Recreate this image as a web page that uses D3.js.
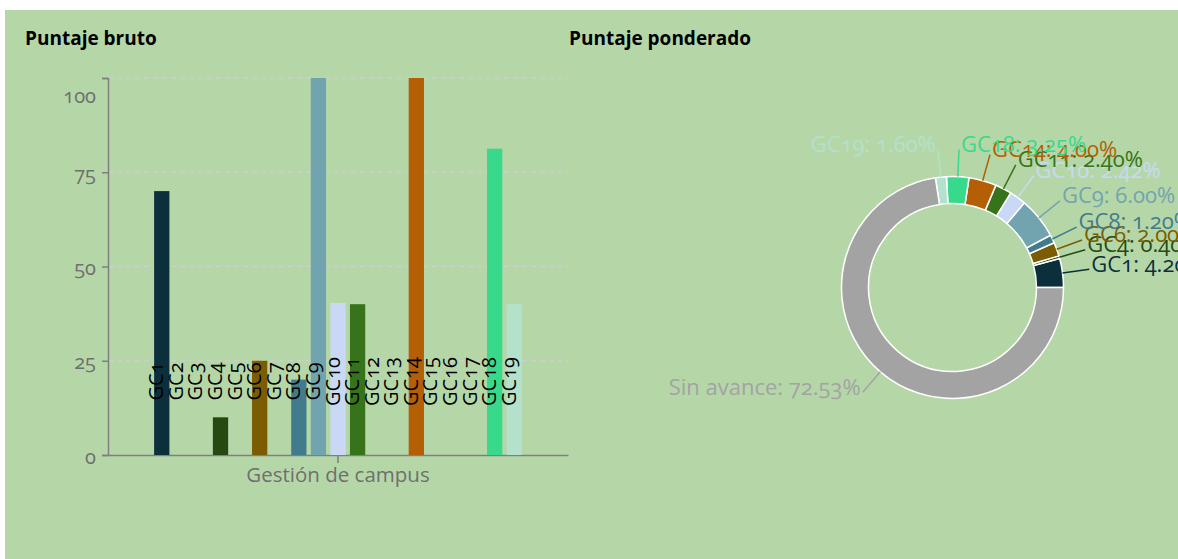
<!DOCTYPE html>
<html>
<head>
<meta charset="utf-8">
<script src="https://cdn.jsdelivr.net/npm/d3@7"></script>
<style>
  body { margin: 0; background: #fff; }
  svg text { font-family: "Open Sans", "Noto Sans", sans-serif; font-feature-settings: "onum"; }
</style>
</head>
<body>
<svg id="chart"></svg>
<script>
/* Chart values */
const group = "Gestión de campus";
const categories = ["GC1", "GC2", "GC3", "GC4", "GC5", "GC6", "GC7", "GC8", "GC9", "GC10",
  "GC11", "GC12", "GC13", "GC14", "GC15", "GC16", "GC17", "GC18", "GC19"];
const rawScores = [70, 0, 0, 10, 0, 25, 0, 20, 100, 40.33, 40, 0, 0, 100, 0, 0, 0, 81.25, 40];
const weightedPct = [4.20, 0, 0, 0.40, 0, 2.00, 0, 1.20, 6.00, 2.42, 2.40, 0, 0, 4.00, 0, 0, 0, 3.25, 1.60];
const restLabel = "Sin avance";
const restPct = 72.53;
const colors = ["#0b2f3b", "#888", "#888", "#254a11", "#888", "#7c5c00", "#888", "#417b8c", "#72a4b0", "#c9d9f5",
  "#36731b", "#888", "#888", "#b45e05", "#888", "#888", "#888", "#39d98b", "#b3e1cc"];
const restColor = "#a3a3a3";
const yTicks = [0, 25, 50, 75, 100];

const width = 1178;
const height = 559;

const svg = d3.select('#chart')
  .attr('width', width)
  .attr('height', height);

svg.append('rect')
  .attr('x', 5)
  .attr('y', 10)
  .attr('width', width - 5)
  .attr('height', height - 10)
  .attr('fill', '#b5d7a8');

/* Titles */
svg.append('text')
  .attr('x', 25).attr('y', 45)
  .attr('font-size', 19).attr('font-weight', 700)
  .text('Puntaje bruto');

svg.append('text')
  .attr('x', 569).attr('y', 45)
  .attr('font-size', 19).attr('font-weight', 700)
  .text('Puntaje ponderado');

/* Bar chart */
const bar = { left: 108, top: 78, w: 460, h: 377 };
const g = svg.append('g').attr('transform', `translate(${bar.left},${bar.top})`);

const y = d3.scaleLinear().domain([0, 100]).range([bar.h, 0]);
const x0 = d3.scaleBand().domain([group]).range([0, bar.w]).padding(0.1);
const x1 = d3.scaleBand().domain(categories).range([0, x0.bandwidth()]).padding(0.22);

// dashed grid
g.append('g')
  .selectAll('line')
  .data(yTicks.filter(d => d > 0))
  .enter().append('line')
  .attr('x1', 0).attr('x2', bar.w)
  .attr('y1', d => y(d)).attr('y2', d => y(d))
  .attr('stroke', '#cfcfcf')
  .attr('stroke-dasharray', '5,4')
  .attr('stroke-width', 1.2);

const yAxis = g.append('g')
  .call(d3.axisLeft(y).tickValues(yTicks).tickSize(6).tickPadding(6));
yAxis.selectAll('text')
  .attr('font-size', 20)
  .attr('fill', '#6f6f6f')
  .attr('dy', d => d === 100 ? '1.2em' : '0.4em');

const xAxis = g.append('g')
  .attr('transform', `translate(0,${bar.h})`)
  .call(d3.axisBottom(x0).tickSize(8).tickSizeOuter(0).tickPadding(4));
xAxis.selectAll('text')
  .attr('font-size', 20.5)
  .attr('fill', '#6f6f6f');

[yAxis, xAxis].forEach(a => {
  a.select('.domain').attr('stroke', '#7f7f7f').attr('stroke-width', 1.5);
  a.selectAll('.tick line').attr('stroke', '#7f7f7f').attr('stroke-width', 1.5);
});

const barGroup = g.append('g')
  .attr('transform', `translate(${x0(group)},0)`);

barGroup.selectAll('rect')
  .data(categories)
  .enter().append('rect')
  .attr('x', d => x1(d))
  .attr('width', x1.bandwidth())
  .attr('y', (d, i) => y(rawScores[i]))
  .attr('height', (d, i) => bar.h - y(rawScores[i]))
  .attr('fill', (d, i) => colors[i]);

barGroup.selectAll('text')
  .data(categories)
  .enter().append('text')
  .attr('transform', d => `translate(${x1(d) + x1.bandwidth() / 2 + 1.5},${y(19.5)}) rotate(-90)`)
  .attr('text-anchor', 'middle')
  .attr('font-size', 20)
  .attr('fill', '#000')
  .text(d => d);

/* Donut chart */
const cx = 952.5, cy = 287.5;
const outerR = 111, innerR = 84, lineR = 138;

const slices = categories
  .map((c, i) => ({ name: c, value: weightedPct[i], color: colors[i] }))
  .filter(d => d.value > 0);
slices.push({ name: restLabel, value: restPct, color: restColor });

const pie = d3.pie()
  .sort(null)
  .value(d => d.value)
  .startAngle(Math.PI / 2)
  .endAngle(Math.PI / 2 - 2 * Math.PI);

const arc = d3.arc().innerRadius(innerR).outerRadius(outerR);
const arcs = pie(slices);

const pg = svg.append('g').attr('transform', `translate(${cx},${cy})`);

pg.selectAll('path')
  .data(arcs)
  .enter().append('path')
  .attr('d', arc)
  .attr('fill', d => d.data.color)
  .attr('stroke', '#fff')
  .attr('stroke-width', 1.5);

function pointAt(a, r) {
  const mid = (a.startAngle + a.endAngle) / 2;
  return [Math.sin(mid) * r, -Math.cos(mid) * r];
}

pg.selectAll('polyline')
  .data(arcs)
  .enter().append('polyline')
  .attr('points', d => [pointAt(d, outerR), pointAt(d, lineR)])
  .attr('fill', 'none')
  .attr('stroke', d => d.data.color)
  .attr('stroke-width', 1.5);

pg.selectAll('text')
  .data(arcs)
  .enter().append('text')
  .attr('x', d => {
    const p = pointAt(d, lineR);
    return p[0] >= 0 ? p[0] + 2 : p[0] - 2;
  })
  .attr('y', d => pointAt(d, lineR)[1])
  .attr('dy', '0.1em')
  .attr('text-anchor', d => pointAt(d, lineR)[0] >= 0 ? 'start' : 'end')
  .attr('font-size', 22)
  .attr('fill', d => d.data.color)
  .text(d => `${d.data.name}: ${d.data.value.toFixed(2)}%`);
</script>
</body>
</html>
